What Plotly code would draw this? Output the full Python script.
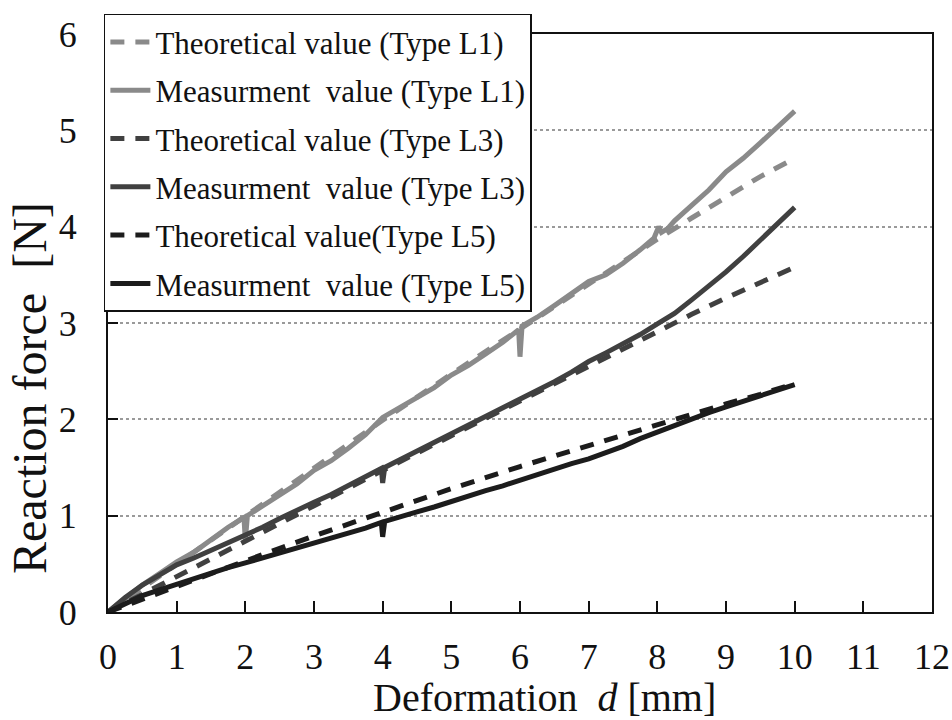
import plotly.graph_objects as go

# Deformation [mm] and reaction force [N]
# Theoretical curves (shared deformation grid)
theo_d = [0, 1, 2, 3, 4, 5, 6, 7, 8, 8.5, 9, 9.5, 10]
theo_L1 = [0, 0.50, 1.00, 1.50, 1.99, 2.47, 2.94, 3.40, 3.87, 4.09, 4.31, 4.52, 4.71]
theo_L3 = [0, 0.37, 0.74, 1.11, 1.47, 1.83, 2.19, 2.55, 2.92, 3.09, 3.26, 3.42, 3.58]
theo_L5 = [0, 0.27, 0.53, 0.79, 1.04, 1.28, 1.51, 1.73, 1.95, 2.05, 2.16, 2.26, 2.37]

# Measurement, Type L1
meas_d_L1 = [0, 0.25, 0.5, 0.75, 1.0, 1.25, 1.5, 1.75, 1.98, 2.0, 2.03, 2.25, 2.5, 2.75,
             3.0, 3.25, 3.5, 3.75, 4.0, 4.25, 4.5, 4.75, 5.0, 5.25, 5.5, 5.75, 5.98, 6.0,
             6.03, 6.25, 6.5, 6.75, 7.0, 7.25, 7.5, 7.75, 7.95, 8.02, 8.06, 8.15, 8.25, 8.5,
             8.75, 9.0, 9.25, 9.5, 9.75, 10.0]
meas_L1 = [0, 0.14, 0.28, 0.40, 0.52, 0.62, 0.75, 0.88, 0.98, 0.74, 1.00, 1.10, 1.22, 1.33,
           1.47, 1.57, 1.70, 1.84, 2.02, 2.12, 2.22, 2.33, 2.46, 2.56, 2.68, 2.80, 2.93, 2.65,
           2.97, 3.06, 3.18, 3.30, 3.43, 3.50, 3.62, 3.76, 3.88, 4.00, 3.94, 3.98, 4.06, 4.22,
           4.38, 4.57, 4.71, 4.87, 5.03, 5.20]

# Measurement, Type L3
meas_d_L3 = [0, 0.25, 0.5, 0.75, 1.0, 1.25, 1.5, 1.75, 2.0, 2.25, 2.5, 2.75, 3.0, 3.25,
             3.5, 3.75, 3.98, 4.0, 4.03, 4.25, 4.5, 4.75, 5.0, 5.25, 5.5, 5.75, 6.0, 6.25,
             6.5, 6.75, 7.0, 7.25, 7.5, 7.75, 8.0, 8.25, 8.5, 8.75, 9.0, 9.25, 9.5, 9.75, 10.0]
meas_L3 = [0, 0.15, 0.28, 0.39, 0.49, 0.56, 0.64, 0.71, 0.79, 0.88, 0.97, 1.06, 1.14, 1.22,
           1.31, 1.40, 1.49, 1.34, 1.50, 1.58, 1.67, 1.76, 1.85, 1.93, 2.02, 2.11, 2.20, 2.29,
           2.39, 2.49, 2.60, 2.69, 2.78, 2.88, 2.99, 3.10, 3.24, 3.38, 3.53, 3.69, 3.86, 4.03, 4.20]

# Measurement, Type L5
meas_d_L5 = [0, 0.25, 0.5, 0.75, 1.0, 1.25, 1.5, 1.75, 2.0, 2.25, 2.5, 2.75, 3.0, 3.25,
             3.5, 3.75, 3.98, 4.0, 4.03, 4.25, 4.5, 4.75, 5.0, 5.25, 5.5, 5.75, 6.0, 6.25,
             6.5, 6.75, 7.0, 7.25, 7.5, 7.75, 8.0, 8.25, 8.5, 8.75, 9.0, 9.25, 9.5, 9.75, 10.0]
meas_L5 = [0, 0.09, 0.17, 0.23, 0.29, 0.34, 0.40, 0.46, 0.51, 0.56, 0.61, 0.66, 0.71, 0.76,
           0.82, 0.87, 0.93, 0.78, 0.94, 0.99, 1.04, 1.09, 1.15, 1.20, 1.26, 1.31, 1.37, 1.42,
           1.49, 1.54, 1.59, 1.65, 1.72, 1.80, 1.87, 1.94, 2.01, 2.07, 2.13, 2.19, 2.25, 2.31, 2.36]

x_ticks = list(range(0, 13))
y_ticks = list(range(0, 7))

GREY_L1 = "#8a8a8a"
GREY_L3 = "#404040"
GREY_L5 = "#1c1c1c"
FONT = "Liberation Serif, Times New Roman, serif"
DASH = "14px,11px"
SP = "\u00a0"

series = [
    ("Theoretical" + SP + "value" + SP + "(Type L1)", theo_d, theo_L1, GREY_L1, DASH),
    ("Measurment" + SP + SP + "value" + SP + "(Type L1)", meas_d_L1, meas_L1, GREY_L1, "solid"),
    ("Theoretical" + SP + "value" + SP + "(Type L3)", theo_d, theo_L3, GREY_L3, DASH),
    ("Measurment" + SP + SP + "value" + SP + "(Type L3)", meas_d_L3, meas_L3, GREY_L3, "solid"),
    ("Theoretical" + SP + "value" + "(Type L5)", theo_d, theo_L5, GREY_L5, DASH),
    ("Measurment" + SP + SP + "value" + SP + "(Type L5)", meas_d_L5, meas_L5, GREY_L5, "solid"),
]

fig = go.Figure()
for i, (name, xs, ys, color, dash) in enumerate(series):
    fig.add_trace(go.Scatter(
        x=xs, y=ys, mode="lines", name=name, legendgroup=f"g{i}",
        line=dict(color=color, width=5, dash=dash),
    ))

# axis captions, placed as free text
fig.add_annotation(
    text="Deformation" + SP + SP + "<i>d</i>" + SP + "[mm]",
    xref="paper", yref="paper", x=0.53, y=-0.148,
    xanchor="center", yanchor="middle", showarrow=False,
    font=dict(family=FONT, size=40, color="#111111"),
)
fig.add_annotation(
    text="Reaction" + SP + "force" + SP + SP + "[N]",
    xref="paper", yref="paper", x=-0.095, y=0.387,
    xanchor="center", yanchor="middle", showarrow=False, textangle=-90,
    font=dict(family=FONT, size=48, color="#111111"),
)

fig.update_layout(
    width=952, height=720,
    margin=dict(l=108, r=20, t=34, b=108),
    paper_bgcolor="white", plot_bgcolor="white",
    font=dict(family=FONT, color="#111111", size=36),
    showlegend=True,
    legend=dict(
        x=-0.005, y=1.035, xanchor="left", yanchor="top",
        bgcolor="white", bordercolor="#111111", borderwidth=1.5,
        font=dict(family=FONT, size=31, color="#111111"),
        tracegroupgap=5, itemwidth=40,
        traceorder="grouped",
    ),
    xaxis=dict(
        range=[0, 12], tickvals=x_ticks, ticktext=[str(v) for v in x_ticks],
        showline=True, linecolor="#111111", linewidth=2, mirror=True,
        ticks="inside", ticklen=11, tickwidth=1.5, tickcolor="#111111",
        showgrid=False, zeroline=False, automargin=False,
        ticklabelstandoff=12, ticklabeloverflow="allow",
        tickfont=dict(family=FONT, size=36),
    ),
    yaxis=dict(
        range=[0, 6], tickvals=y_ticks, ticktext=[str(v) for v in y_ticks],
        showline=True, linecolor="#111111", linewidth=2, mirror=True,
        ticks="inside", ticklen=10, tickwidth=1.5, tickcolor="#111111",
        showgrid=True, gridcolor="#9a9a9a", gridwidth=1.5, griddash="dot",
        zeroline=False, automargin=False,
        ticklabelstandoff=22,
        tickfont=dict(family=FONT, size=36),
    ),
)

fig.write_html("out.html")
